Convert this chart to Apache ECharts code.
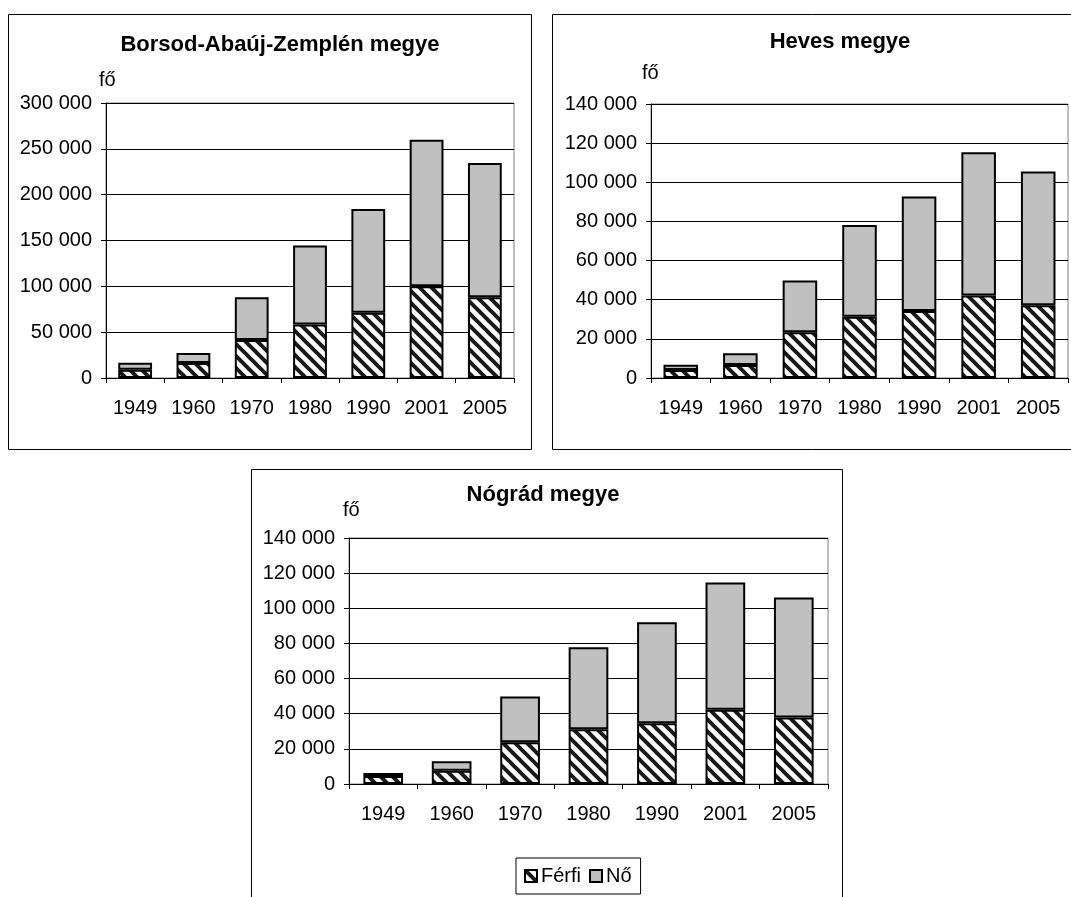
<!DOCTYPE html>
<html>
<head>
<meta charset="utf-8">
<title>Megyék</title>
<script src="https://cdn.jsdelivr.net/npm/echarts@6/dist/echarts.min.js"></script>
<style>
    html, body { margin: 0; padding: 0; background: #fff; }
    #main { width: 1071px; height: 897px; }
</style>
</head>
<body>
<div id="main"></div>
<script>
// évek
var years = ['1949', '1960', '1970', '1980', '1990', '2001', '2005'];

// Borsod-Abaúj-Zemplén megye
var borsodFerfi = [9000, 16300, 41400, 58500, 71200, 100200, 88200];
var borsodNo = [7700, 10900, 46800, 86000, 113300, 159800, 146400];

// Heves megye
var hevesFerfi = [4100, 6600, 23400, 31300, 34200, 42100, 37200];
var hevesNo = [2700, 6100, 26400, 46900, 58600, 73300, 68300];

// Nógrád megye
var nogradFerfi = [4500, 7600, 23700, 31200, 34600, 42200, 37800];
var nogradNo = [1700, 5300, 26100, 46600, 57400, 72500, 68300];

var titles = ['Borsod-Abaúj-Zemplén megye', 'Heves megye', 'Nógrád megye'];
var axisMax = [300000, 140000, 140000];
var axisStep = [50000, 20000, 20000];

var FONT = 'Liberation Sans, Arial, sans-serif';

// ferde csíkozás (Férfi)
function makeHatch() {
    var c = document.createElement('canvas');
    c.width = 12;
    c.height = 12;
    var ctx = c.getContext('2d');
    ctx.fillStyle = '#fff';
    ctx.fillRect(0, 0, 12, 12);
    ctx.strokeStyle = '#1a1a1a';
    ctx.lineWidth = 4;
    ctx.beginPath();
    for (var k = -12; k <= 12; k += 12) {
        ctx.moveTo(k - 2, -2);
        ctx.lineTo(k + 14, 14);
    }
    ctx.stroke();
    return c;
}
var hatch = { image: makeHatch(), repeat: 'repeat' };

function fmt(v) {
    return String(v).replace(/\B(?=(\d{3})+(?!\d))/g, ' ');
}

var grids = [
    { left: 106, top: 103, width: 408, height: 275 },
    { left: 651, top: 104, width: 417, height: 274 },
    { left: 349, top: 538, width: 479, height: 246 }
];

var titlePos = [
    { left: 280, top: 34 },
    { left: 840, top: 31 },
    { left: 543, top: 484 }
];

var xAxes = [], yAxes = [], series = [], titleList = [];
var data = [[borsodFerfi, borsodNo], [hevesFerfi, hevesNo], [nogradFerfi, nogradNo]];

for (var i = 0; i < 3; i++) {
    grids[i].show = true;
    grids[i].borderColor = '#808080';
    grids[i].borderWidth = 1;
    grids[i].backgroundColor = 'transparent';

    titleList.push({
        text: titles[i],
        left: titlePos[i].left,
        top: titlePos[i].top,
        textAlign: 'center',
        padding: 0,
        textStyle: { fontFamily: FONT, fontSize: 22, fontWeight: 'bold', color: '#000' }
    });

    xAxes.push({
        type: 'category',
        gridIndex: i,
        data: years,
        axisLine: { lineStyle: { color: '#000', width: 1 } },
        axisTick: { show: true, length: 5, interval: 0, lineStyle: { color: '#000' } },
        axisLabel: { color: '#000', fontFamily: FONT, fontSize: 20, margin: 20, interval: 0 }
    });

    yAxes.push({
        type: 'value',
        gridIndex: i,
        min: 0,
        max: axisMax[i],
        interval: axisStep[i],
        axisLine: { show: true, lineStyle: { color: '#000', width: 1 } },
        axisTick: { show: true, length: 5, lineStyle: { color: '#000' } },
        axisLabel: { color: '#000', fontFamily: FONT, fontSize: 20, margin: 14, formatter: fmt },
        splitLine: { show: true, lineStyle: { color: '#000', width: 1 } }
    });

    series.push({
        name: 'Férfi',
        type: 'bar',
        stack: 'ossz' + i,
        xAxisIndex: i,
        yAxisIndex: i,
        barWidth: '58%',
        data: data[i][0],
        itemStyle: { color: hatch, borderColor: '#000', borderWidth: 2 }
    });
    series.push({
        name: 'Nő',
        type: 'bar',
        stack: 'ossz' + i,
        xAxisIndex: i,
        yAxisIndex: i,
        barWidth: '58%',
        data: data[i][1],
        itemStyle: { color: '#c0c0c0', borderColor: '#000', borderWidth: 2 }
    });
}

var foStyle = { text: 'fő', fontFamily: FONT, fontSize: 20, fill: '#000' };

var option = {
    animation: false,
    backgroundColor: '#fff',
    title: titleList,
    grid: grids,
    xAxis: xAxes,
    yAxis: yAxes,
    legend: {
        data: ['Férfi', 'Nő'],
        left: 516,
        top: 858,
        orient: 'horizontal',
        itemWidth: 12,
        itemHeight: 12,
        itemGap: 8,
        padding: [8, 9, 8, 8],
        borderColor: '#000',
        borderWidth: 1,
        icon: 'rect',
        textStyle: { fontFamily: FONT, fontSize: 20, color: '#000', padding: [0, 0, 0, -1] }
    },
    graphic: [
        // keretek
        { type: 'rect', shape: { x: 8.5, y: 14.5, width: 523, height: 435 }, style: { fill: 'none', stroke: '#000', lineWidth: 1 }, z: 0 },
        { type: 'rect', shape: { x: 552.5, y: 14.5, width: 540, height: 435 }, style: { fill: 'none', stroke: '#000', lineWidth: 1 }, z: 0 },
        { type: 'rect', shape: { x: 251.5, y: 469.5, width: 591, height: 460 }, style: { fill: 'none', stroke: '#000', lineWidth: 1 }, z: 0 },
        // mértékegység
        { type: 'text', left: 99, top: 70, style: foStyle },
        { type: 'text', left: 642, top: 63, style: foStyle },
        { type: 'text', left: 343, top: 500, style: foStyle }
    ],
    series: series
};

var chart = echarts.init(document.getElementById('main'));
chart.setOption(option);
</script>
</body>
</html>
